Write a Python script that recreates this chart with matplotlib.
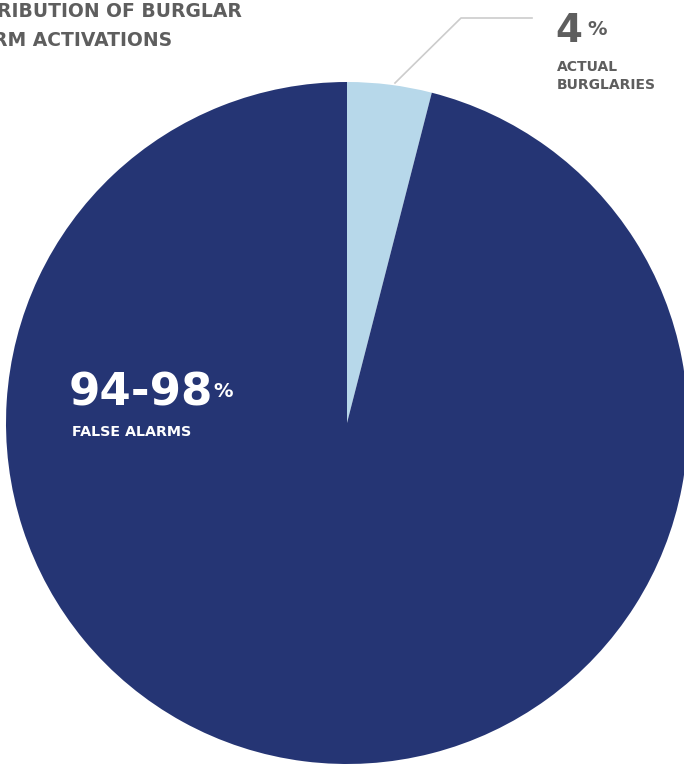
import matplotlib
matplotlib.use("Agg")
import matplotlib.pyplot as plt

labels = ["Actual burglaries", "False alarms"]
values = [4, 96]
colors = ["#b7d8ea", "#253574"]
title_lines = ["DISTRIBUTION OF BURGLAR", "ALARM ACTIVATIONS"]

W, H = 684, 764
fig = plt.figure(figsize=(W / 100, H / 100), dpi=100)
ax = fig.add_axes([0, 0, 1, 1])

cx, cy, r = 347, 764 - 423, 341
ax.pie(values, colors=colors, startangle=90, counterclock=False,
       center=(cx, cy), radius=r, frame=True,
       wedgeprops=dict(linewidth=0))
ax.set_xlim(0, W)
ax.set_ylim(0, H)
ax.set_aspect("auto")
ax.axis("off")

font = "DejaVu Sans"
grey = "#5e5e5e"

# title (clipped at left edge like the reference)
tsize = 13.5
ax.text(242, H - 17, title_lines[0], fontsize=tsize, fontweight="bold",
        family=font, color=grey, ha="right", va="baseline")
ax.text(172, H - 46, title_lines[1], fontsize=tsize, fontweight="bold",
        family=font, color=grey, ha="right", va="baseline")

# leader line
ax.plot([395, 461, 532], [H - 83, H - 18, H - 18], color="#cccccc", lw=1.2)

# 4% label
ax.text(555, H - 42, f"{values[0]}", fontsize=28, fontweight="bold", family=font,
        color=grey, ha="left", va="baseline")
ax.text(587, H - 35, "%", fontsize=14, fontweight="bold", family=font,
        color=grey, ha="left", va="baseline")
ax.text(557, H - 71, "ACTUAL", fontsize=10, fontweight="bold", family=font,
        color=grey, ha="left", va="baseline")
ax.text(557, H - 89, "BURGLARIES", fontsize=10, fontweight="bold", family=font,
        color=grey, ha="left", va="baseline")

# 94-98% label
ax.text(69, H - 405, "94-98", fontsize=32.5, fontweight="bold", family=font,
        color="white", ha="left", va="baseline")
ax.text(213, H - 397, "%", fontsize=14, fontweight="bold", family=font,
        color="white", ha="left", va="baseline")
ax.text(72, H - 436, "FALSE ALARMS", fontsize=10.3, fontweight="bold", family=font,
        color="white", ha="left", va="baseline")

fig.savefig("out.png", dpi=100)
